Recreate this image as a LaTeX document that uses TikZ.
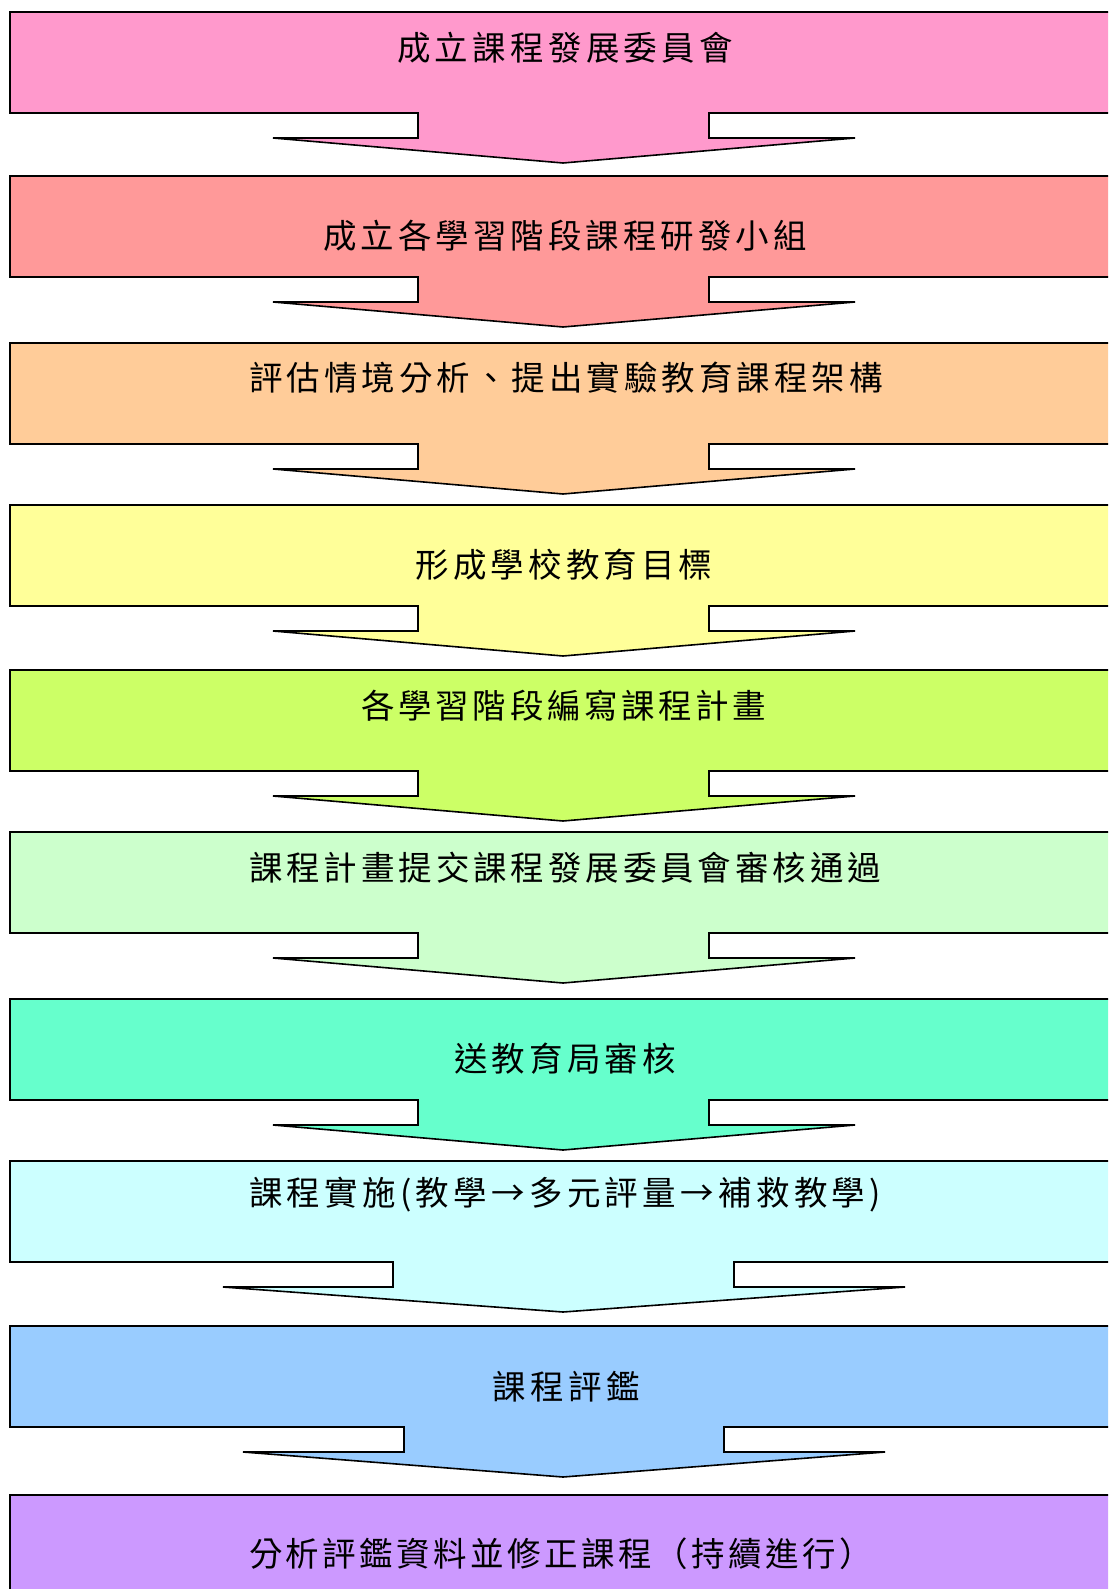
\documentclass[tikz,border=0pt]{standalone}
\usepackage{fontspec}
\newfontfamily\cjk{Noto Sans CJK TC}
\def\spread#1#2{\hbox to #1{\spB#2\relax}}
\def\spB#1{\ifx\relax#1\unskip\else#1\hfil\expandafter\spB\fi}
\definecolor{c1}{HTML}{FF99CC}
\definecolor{c2}{HTML}{FF9999}
\definecolor{c3}{HTML}{FFCC99}
\definecolor{c4}{HTML}{FFFF99}
\definecolor{c5}{HTML}{CCFF66}
\definecolor{c6}{HTML}{CCFFCC}
\definecolor{c7}{HTML}{66FFCC}
\definecolor{c8}{HTML}{CCFFFF}
\definecolor{c9}{HTML}{99CCFF}
\definecolor{c10}{HTML}{CC99FF}
\tikzset{
  blk/.style={draw=black, line width=1.6pt, line join=miter},
  lbl/.style={inner sep=0pt, font=\cjk\fontsize{33.5}{33.5}\selectfont, text=black},
}
% #1 colour, #2 top, #3 stem left, #4 stem right, #5 head left, #6 head right
\newcommand\flowblock[6]{%
  \filldraw[blk, fill=#1] (10,#2) -- (1120,#2) -- (1120,#2+101) -- (#4,#2+101)
    -- (#4,#2+126) -- (#6,#2+126) -- (563,#2+151) -- (#5,#2+126) -- (#3,#2+126)
    -- (#3,#2+101) -- (10,#2+101) -- cycle;}
\begin{document}
\begin{tikzpicture}[x=1pt,y=-1pt]
\useasboundingbox (0,0) rectangle (1108,1589);
\fill[white] (0,0) rectangle (1108,1589);
\clip (0,0) rectangle (1108,1589);
\flowblock{c1}{12}{418}{709}{273}{855}
\flowblock{c2}{176}{418}{709}{273}{855}
\flowblock{c3}{343}{418}{709}{273}{855}
\flowblock{c4}{505}{418}{709}{273}{855}
\flowblock{c5}{670}{418}{709}{273}{855}
\flowblock{c6}{832}{418}{709}{273}{855}
\flowblock{c7}{999}{418}{709}{273}{855}
\flowblock{c8}{1161}{393}{734}{223}{905}
\flowblock{c9}{1326}{404}{724}{243}{885}
\filldraw[blk, fill=c10] (10,1495) -- (1120,1495) -- (1120,1620) -- (10,1620) -- cycle;
\node[lbl] (t1) at (565,48) {\spread{336pt}{成立課程發展委員會}};
\node[lbl] (t2) at (565,236) {\spread{484pt}{成立各學習階段課程研發小組}};
\node[lbl] (t3) at (566,378) {\spread{634pt}{評估情境分析、提出實驗教育課程架構}};
\node[lbl] (t4) at (564,565) {\spread{297pt}{形成學校教育目標}};
\node[lbl] (t5) at (564,706) {\spread{405pt}{各學習階段編寫課程計畫}};
\node[lbl] (t6) at (565,868) {\spread{632pt}{課程計畫提交課程發展委員會審核通過}};
\node[lbl] (t7) at (565,1059) {\spread{221pt}{送教育局審核}};
\node[lbl] (t8) at (565,1195) {\spread{632pt}{課程實施(教學→多元評量→補救教學)}};
\node[lbl] (t9) at (566,1387) {\spread{147pt}{課程評鑑}};
\node[lbl] (t10) at (561,1554) {\spread{624pt}{分析評鑑資料並修正課程（持續進行）}};
\end{tikzpicture}
\end{document}
